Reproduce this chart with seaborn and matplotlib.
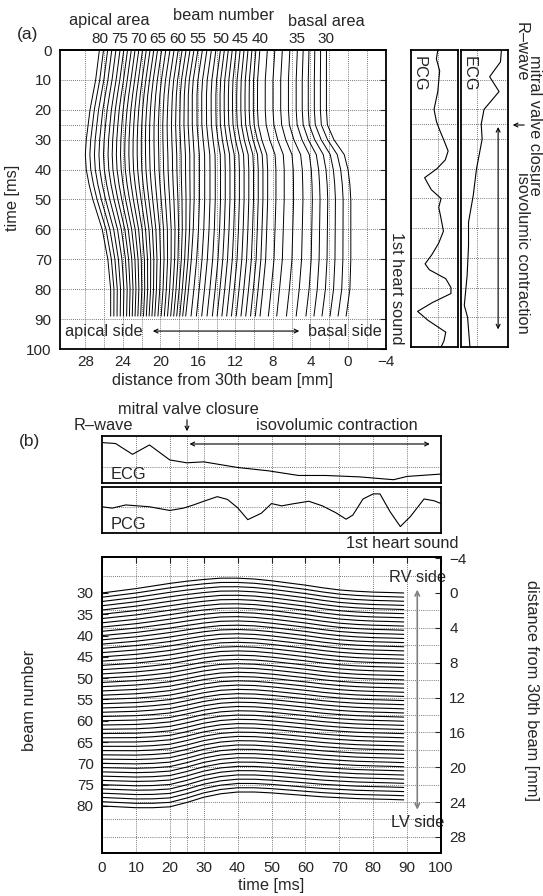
import numpy as np
import pandas as pd
import seaborn as sns
import matplotlib
matplotlib.use("Agg")
import matplotlib.pyplot as plt

# ---------------- values ----------------
beam_ticks = [80, 75, 70, 65, 60, 55, 50, 45, 40, 35, 30]
beam_pos_a = [26.5, 24.3, 22.3, 20.3, 18.1, 16.0, 13.6, 11.5, 9.4, 5.4, 2.3]   # mm at t=0 in (a)

# panel (a): lateral shift [mm] of a few beams over time
a_time = [0, 5, 10, 15, 20, 25, 30, 35, 40, 45, 50, 60, 70, 80, 89]
a_anchor_beams = [30, 38, 55, 80]
a_shift_b30 = [0, 0, 0, 0, 0, -0.1, -0.8, -1.9, -2.3, -2.5, -2.6, -2.6, -2.6, -2.5, -2.1]
a_shift_b38 = [0, 0.1, 0.2, 0.2, 0.2, 0.1, -0.3, -0.9, -1.0, -1.0, -1.0, -0.9, -0.8, -0.5, -0.2]
a_shift_b55 = [0, 0.25, 0.5, 0.6, 0.6, 0.6, 0.5, 0.4, 0.4, 0.4, 0.4, 0.5, 0.7, 1.0, 1.3]
a_shift_b80 = [0, 0.2, 0.4, 0.7, 1.0, 1.2, 1.4, 1.5, 1.4, 1.1, 0.7, -0.3, -0.9, -1.2, -1.2]

# panel (b): shift [mm] of the basal (30) and apical (80) beam lines
b_time = [0, 5, 10, 15, 20, 25, 30, 35, 40, 45, 50, 55, 60, 65, 70, 75, 80, 85, 89]
b_shift_b30 = [0, -0.25, -0.5, -0.8, -1.1, -1.35, -1.55, -1.7, -1.7, -1.6, -1.4, -1.15, -0.9, -0.6, -0.35, -0.2, -0.1, -0.05, 0]
b_shift_b80 = [0, 0.1, 0.2, 0.2, 0.1, -0.4, -1.0, -1.4, -1.6, -1.6, -1.5, -1.35, -1.2, -1.05, -0.95, -0.85, -0.8, -0.75, -0.7]
mm_per_beam = 0.489

# ECG / PCG traces (normalised amplitude 0..1)
ecg_t = [0, 4, 9, 14, 20, 25, 30, 40, 49, 58, 66, 76, 86, 90, 100]
ecg_v = [0.86, 0.84, 0.61, 0.81, 0.49, 0.43, 0.45, 0.33, 0.26, 0.16, 0.16, 0.13, 0.07, 0.14, 0.19]
pcg_t = [0, 3, 7, 14, 20, 24, 27, 30, 34, 37, 40, 43, 47, 50, 53, 56, 61, 65, 69, 72, 74, 77, 80, 82, 85, 88, 91, 95, 98, 100]
pcg_v = [0.57, 0.54, 0.61, 0.57, 0.49, 0.54, 0.61, 0.69, 0.79, 0.73, 0.55, 0.29, 0.43, 0.64, 0.59, 0.63, 0.69, 0.59, 0.44, 0.30, 0.39, 0.74, 0.85, 0.85, 0.46, 0.14, 0.36, 0.74, 0.70, 0.64]
ecg_mid, pcg_mid = 0.34, 0.57

# ---------------- build tables ----------------
beams = np.arange(30, 81)
base_a = np.interp(beams, beam_ticks[::-1], beam_pos_a[::-1])
prof_a = np.array([a_shift_b30, a_shift_b38, a_shift_b55, a_shift_b80])
rows = []
for b, p0 in zip(beams, base_a):
    for i, t in enumerate(a_time):
        rows.append((b, t, p0 + np.interp(b, a_anchor_beams, prof_a[:, i])))
df_a = pd.DataFrame(rows, columns=["beam", "t", "mm"])

prof_b = np.array([b_shift_b30, b_shift_b80])
rows = []
for b in beams:
    w = (b - 30) / 50
    for i, t in enumerate(b_time):
        rows.append((b, t, (b - 30) * mm_per_beam + (1 - w) * prof_b[0, i] + w * prof_b[1, i]))
df_b = pd.DataFrame(rows, columns=["beam", "t", "mm"])

# ---------------- figure ----------------
sns.set_theme(style="white")
plt.rcParams["font.family"] = ["Liberation Sans", "DejaVu Sans"]
plt.rcParams["font.size"] = 11
plt.rcParams["axes.edgecolor"] = "black"
plt.rcParams["axes.linewidth"] = 1.3

W, H = 543, 896
FS = 11.8
fig = plt.figure(figsize=(W / 100, H / 100), dpi=100)


def box(l, t, r, b):
    return [l / W, 1 - b / H, (r - l) / W, (b - t) / H]


def put(x, y, s, **kw):
    kw.setdefault("fontsize", FS)
    fig.text(x / W, 1 - y / H, s, ha="center", va="center", **kw)


def fig_arrow(x0, y0, x1, y1, style="->", color="black"):
    fig.add_artist(matplotlib.patches.FancyArrowPatch(
        (x0 / W, 1 - y0 / H), (x1 / W, 1 - y1 / H), transform=fig.transFigure,
        arrowstyle=style, mutation_scale=7, color=color, lw=0.8))


grid_kw = dict(color="0.3", linestyle=(0, (1, 1.5)), linewidth=0.6)
times_grid = [10, 20, 25, 30, 40, 50, 60, 70, 80, 90]
dbl = dict(arrowstyle="<->", lw=0.8, color="black", mutation_scale=7)

# ----- (a) main -----
ax = fig.add_axes(box(60, 50, 386, 349))
sns.lineplot(data=df_a, x="mm", y="t", units="beam", estimator=None, orient="y",
             color="black", lw=0.7, ax=ax, legend=False)
ax.set_xlim(30.7, -4.05)
ax.set_ylim(100, 0)
ax.set_xticks(np.arange(28, -5, -4))
ax.set_xticks(np.arange(26, -4, -4), minor=True)
ax.set_yticks(np.arange(0, 101, 10))
ax.set_yticks([25], minor=True)
ax.set_xlabel("")
ax.set_ylabel("")
ax.tick_params(which="major", direction="in", length=4, width=0.8, right=True, pad=6, labelsize=11)
ax.tick_params(axis="x", pad=4)
ax.tick_params(which="minor", length=0)
ax.grid(True, which="both", **grid_kw)
sec = ax.secondary_xaxis("top")
sec.set_xticks(beam_pos_a, labels=[str(b) for b in beam_ticks])
sec.tick_params(length=0, pad=3, labelsize=11)
ax.text(30.2, 94, "apical side", ha="left", va="center", fontsize=FS)
ax.text(-3.6, 94, "basal side", ha="right", va="center", fontsize=FS)
ax.annotate("", xy=(21.1, 94), xytext=(4.9, 94), arrowprops=dbl)

put(28, 34, "(a)", fontsize=12.5)
put(109, 21, "apical area")
put(224, 15, "beam number")
put(326, 21, "basal area")
put(12, 198, "time [ms]", rotation=90)
put(223, 380, "distance from 30th beam [mm]")
put(397, 288, "1st heart sound", rotation=-90)

# ----- (a) PCG / ECG strips -----
for l, r, tv, vv, mid, name in [(411, 458, pcg_t, pcg_v, pcg_mid, "PCG"),
                                (461, 508, ecg_t, ecg_v, ecg_mid, "ECG")]:
    s = fig.add_axes(box(l, 50, r, 347))
    sns.lineplot(x=vv, y=tv, orient="y", color="black", lw=0.8, ax=s)
    s.set_xlim(0, 1)
    s.set_ylim(100, 0)
    s.set_xticks([mid])
    s.set_yticks(times_grid)
    s.tick_params(length=0, labelbottom=False, labelleft=False)
    s.grid(True, **grid_kw)
    s.text(0.17, 2, name, rotation=-90, ha="center", va="top", fontsize=FS)
    if name == "ECG":
        s.annotate("", xy=(0.79, 25), xytext=(0.79, 95), arrowprops=dbl)

put(521, 52, "R\u2013wave", rotation=-90)
put(535, 125, "mitral valve closure", rotation=-90)
put(522, 253, "isovolumic contraction", rotation=-90)
fig_arrow(527, 125, 510, 125)

# ----- (b) ECG / PCG strips -----
for t, b, tv, vv, mid, name in [(436, 483, ecg_t, ecg_v, ecg_mid, "ECG"),
                                (487, 533, pcg_t, pcg_v, pcg_mid, "PCG")]:
    s = fig.add_axes(box(102, t, 441, b))
    sns.lineplot(x=tv, y=vv, color="black", lw=0.8, ax=s)
    s.set_xlim(0, 100)
    s.set_ylim(0, 1)
    s.set_xticks(times_grid)
    s.set_yticks([mid])
    s.tick_params(length=0, labelbottom=False, labelleft=False)
    s.grid(True, **grid_kw)
    s.text(2.4, 0.19, name, ha="left", va="center", fontsize=FS)
    if name == "ECG":
        s.annotate("", xy=(25, 0.83), xytext=(97.5, 0.83), arrowprops=dbl)

put(30, 441, "(b)", fontsize=12.5)
put(103, 425, "R\u2013wave")
put(188, 409, "mitral valve closure")
put(337, 425, "isovolumic contraction")
fig_arrow(187, 417, 187, 434)
put(402, 543, "1st heart sound")

# ----- (b) main -----
ax = fig.add_axes(box(102, 557, 441, 853))
sns.lineplot(data=df_b, x="t", y="mm", units="beam", estimator=None,
             color="black", lw=0.8, ax=ax, legend=False)
ylim = (29.85, -4.13)
ax.set_xlim(0, 100)
ax.set_ylim(*ylim)
ax.set_xticks(np.arange(0, 101, 10))
ax.set_xticks([25], minor=True)
ax.set_yticks([(b - 30) * mm_per_beam for b in range(30, 81, 5)],
              labels=[str(b) for b in range(30, 81, 5)])
ax.set_yticks(np.arange(-2, 29, 2), minor=True)
ax.set_xlabel("")
ax.set_ylabel("")
ax.tick_params(which="major", direction="in", length=4, width=0.8, top=True, pad=6, labelsize=11)
ax.tick_params(which="minor", length=0)
ax.grid(True, which="minor", axis="y", **grid_kw)
ax.grid(True, which="both", axis="x", **grid_kw)
ax.annotate("", xy=(93, 25.2), xytext=(93, -0.7),
            arrowprops=dict(arrowstyle="<->", lw=1.2, color="0.5", mutation_scale=8))
ax.text(93, -1.8, "RV side", ha="center", va="center", fontsize=FS)
ax.text(93, 26.4, "LV side", ha="center", va="center", fontsize=FS)
tw = ax.twinx()
tw.set_ylim(*ylim)
tw.set_yticks(np.arange(-4, 29, 4))
tw.tick_params(direction="in", length=4, width=0.8, pad=6, labelsize=11)
tw.grid(False)

put(271, 885, "time [ms]")
put(30, 700, "beam number", rotation=90)
put(531, 690, "distance from 30th beam [mm]", rotation=-90)

fig.savefig("out.png", dpi=100)
